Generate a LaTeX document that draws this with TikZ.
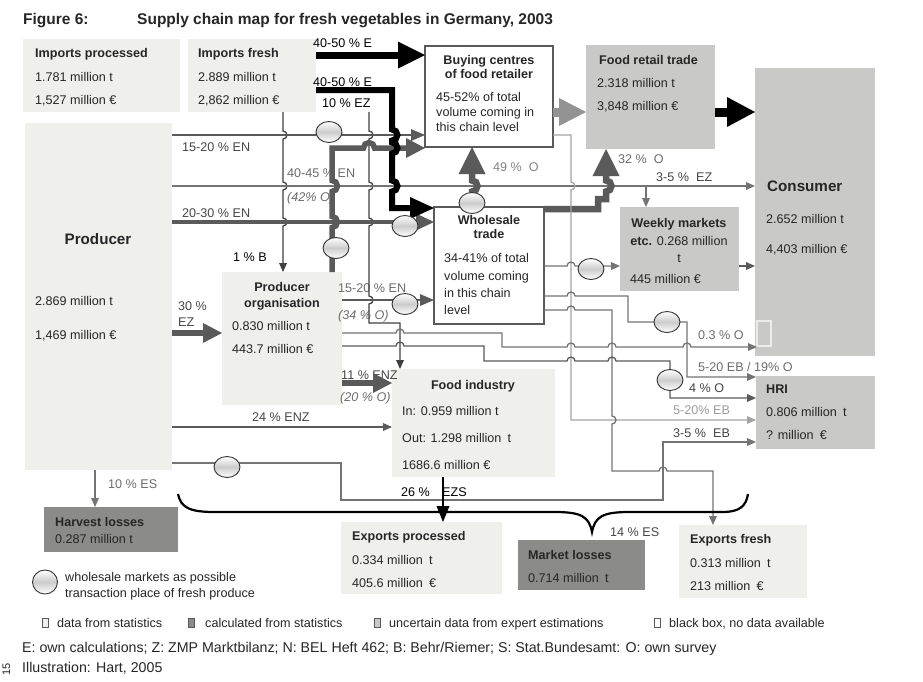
\documentclass[tikz,border=0pt]{standalone}
\usepackage{fontspec}
\setmainfont{Liberation Sans}
\usetikzlibrary{arrows.meta,shapes.geometric}

\definecolor{boxlight}{HTML}{EFEFEC}
\definecolor{boxmid}{HTML}{C9C9C7}
\definecolor{boxdark}{HTML}{8B8C89}
\definecolor{linedark}{HTML}{5A5A5A}
\definecolor{linemid}{HTML}{747474}
\definecolor{linelight}{HTML}{A3A3A3}
\definecolor{labgrey}{HTML}{464646}
\definecolor{labsoft}{HTML}{6C6C6C}
\definecolor{lablight}{HTML}{9C9C9C}

% little hops where two lines cross
\newcommand{\hopr}{arc[start angle=180,end angle=0,radius=4pt]}
\newcommand{\hopd}{arc[start angle=90,end angle=-90,radius=4pt]}
\newcommand{\bighopd}{arc[start angle=90,end angle=-90,radius=5.5pt]}
\newcommand{\bighopu}{arc[start angle=-90,end angle=90,radius=5.5pt]}
\newcommand{\bighopr}{arc[start angle=180,end angle=0,radius=5.5pt]}
\newcommand{\boxtext}[3]{\node[txt] (#1) at (#2) {#3};}
\newcommand{\boxtextc}[3]{\node[txt, anchor=base] (#1) at (#2) {#3};}

\begin{document}
\begin{tikzpicture}[x=1pt, y=-1pt,
  font=\fontsize{12.6}{15}\selectfont,
  box/.style={anchor=north west, inner sep=0, outer sep=0},
  lightbox/.style={box, fill=boxlight},
  midbox/.style={box, fill=boxmid},
  darkbox/.style={box, fill=boxdark},
  openbox/.style={box, fill=white, draw=linedark, line width=1.5pt},
  txt/.style={anchor=base west, inner sep=0, text=black!85},
  lab/.style={txt, text=labgrey},
  big/.style={font=\fontsize{15.2}{18}\selectfont\bfseries},
  foot/.style={txt, font=\fontsize{14.2}{17}\selectfont},
  market/.style={ellipse, draw=black!80, line width=0.9pt, inner sep=0,
    minimum width=26pt, minimum height=21pt,
    top color=white, bottom color=white, middle color=gray!40},
  legsq/.style={draw=black!65, line width=0.7pt, inner sep=0, minimum width=6pt, minimum height=9pt},
  arr/.style={draw=linemid, line width=1.3pt, -{Triangle[length=9pt,width=8pt,line width=0pt]}},
  arrdark/.style={arr, draw=black!75},
  thickarr/.style={draw=linedark, line width=2.7pt, -{Triangle[length=14pt,width=12pt,line width=0pt]}},
  widearr/.style={draw=linedark, line width=3.8pt, -{Triangle[length=18pt,width=17pt,line width=0pt]}},
  fatgrey/.style={draw=linedark, line width=5.5pt, -{Triangle[length=19pt,width=20pt,line width=0pt]}},
  fatmid/.style={draw=linedark, line width=6.5pt, -{Triangle[length=27pt,width=27pt,line width=0pt]}},
  fatlight/.style={draw=linelight!90!black, line width=9pt, -{Triangle[length=27pt,width=28pt,line width=0pt]}},
  fatblack/.style={draw=black, line width=9pt, -{Triangle[length=28pt,width=30pt,line width=0pt]}},
  bigblack/.style={draw=black, line width=7pt, -{Triangle[length=27pt,width=27pt,line width=0pt]}},
  blackarr/.style={draw=black, line width=6pt, -{Triangle[length=24pt,width=22pt,line width=0pt]}},
  exparr/.style={draw=black, line width=2.5pt, -{Triangle[length=16pt,width=13pt,line width=0pt]}},
  bracestroke/.style={draw=black, line width=2.2pt}
]
\fill[white] (0,0) rectangle (923,681);
\useasboundingbox (0,0) rectangle (923,681);

% boxes
\node[lightbox, minimum width=157pt, minimum height=73pt] (impproc) at (23,39) {};
\node[lightbox, minimum width=128pt, minimum height=73pt] (impfresh) at (188,39) {};
\node[lightbox, minimum width=147pt, minimum height=347pt] (prod) at (25,123) {};
\node[openbox, minimum width=128pt, minimum height=101pt] (buy) at (425,46) {};
\node[midbox, minimum width=129pt, minimum height=104pt] (retail) at (586,45) {};
\node[midbox, minimum width=120pt, minimum height=288pt] (cons) at (755,68) {};
\node[box, draw=white!85!gray, line width=1.2pt, minimum width=14pt, minimum height=25pt] (blackbox) at (757,321) {};
\node[midbox, minimum width=119pt, minimum height=84pt] (weekly) at (620,207) {};
\node[openbox, minimum width=110pt, minimum height=117pt] (whole) at (434,207) {};
\node[lightbox, minimum width=120pt, minimum height=133pt] (porg) at (222,272) {};
\node[lightbox, minimum width=163pt, minimum height=108pt] (food) at (392,369) {};
\node[midbox, minimum width=119pt, minimum height=73pt] (hri) at (756,376) {};
\node[darkbox, minimum width=134pt, minimum height=45pt] (harvest) at (44,507) {};
\node[lightbox, minimum width=161pt, minimum height=72pt] (expproc) at (341,522) {};
\node[darkbox, minimum width=127pt, minimum height=50pt] (mloss) at (518,540) {};
\node[lightbox, minimum width=128pt, minimum height=73pt] (expfresh) at (679,525) {};

% title
\node[txt, font=\fontsize{15.5}{18}\selectfont\bfseries] (fig) at (23,24) {Figure 6:};
\node[txt, font=\fontsize{15.5}{18}\selectfont\bfseries] (title) at (137,24) {Supply chain map for fresh vegetables in Germany, 2003};

% box texts
\boxtext{ip1}{35,57}{\textbf{Imports processed}}
\boxtext{ip2}{35,81}{1.781 million t}
\boxtext{ip3}{35,104}{1,527 million €}
\boxtext{if1}{198,57}{\textbf{Imports fresh}}
\boxtext{if2}{198,81}{2.889 million t}
\boxtext{if3}{198,104}{2,862 million €}
\node[txt, big, anchor=base] (pr1) at (98,244) {Producer};
\boxtext{pr2}{35,305}{2.869 million t}
\boxtext{pr3}{35,339}{1,469 million €}
\boxtextc{bu1}{489,64}{\textbf{Buying centres}}
\boxtextc{bu2}{489,78}{\textbf{of food retailer}}
\boxtext{bu3}{436,101}{45-52\% of total}
\boxtext{bu4}{436,116}{volume coming in}
\boxtext{bu5}{436,131}{this chain level}
\boxtext{re1}{599,64}{\textbf{Food retail trade}}
\boxtext{re2}{597,87}{2.318 million t}
\boxtext{re3}{597,110}{3,848 million €}
\node[txt, big] (co1) at (767,191) {Consumer};
\boxtext{co2}{766,223}{2.652 million t}
\boxtext{co3}{766,253}{4,403 million €}
\boxtextc{wk1}{679,227.5}{\textbf{Weekly markets}}
\boxtextc{wk2}{679,245}{\textbf{etc.} 0.268 million}
\boxtextc{wk3}{679,262}{t}
\boxtext{wk4}{630,283}{445 million €}
\boxtextc{wh1}{489,224.5}{\textbf{Wholesale}}
\boxtextc{wh2}{489,238}{\textbf{trade}}
\boxtext{wh3}{444,262}{34-41\% of total}
\boxtext{wh4}{444,280}{volume coming}
\boxtext{wh5}{444,297}{in this chain}
\boxtext{wh6}{444,314}{level}
\boxtextc{po1}{282,291}{\textbf{Producer}}
\boxtextc{po2}{282,307}{\textbf{organisation}}
\boxtext{po3}{232,330}{0.830 million t}
\boxtext{po4}{232,353}{443.7 million €}
\boxtextc{fo1}{473,389}{\textbf{Food industry}}
\boxtext{fo2}{402,415}{In: 0.959 million t}
\boxtext{fo3}{402,442}{Out: 1.298 million\enspace t}
\boxtext{fo4}{402,469}{1686.6 million €}
\boxtext{hr1}{766,393.5}{\textbf{HRI}}
\boxtext{hr2}{766,416.5}{0.806 million\enspace t}
\boxtext{hr3}{766,439.5}{? million\enspace €}
\boxtext{ha1}{55,526.5}{\textbf{Harvest losses}}
\boxtext{ha2}{55,543}{0.287 million t}
\boxtext{ep1}{352,540.5}{\textbf{Exports processed}}
\boxtext{ep2}{352,564}{0.334 million\enspace t}
\boxtext{ep3}{352,587}{405.6 million\enspace €}
\boxtext{ml1}{528,559}{\textbf{Market losses}}
\boxtext{ml2}{528,582.5}{0.714 million\enspace t}
\boxtext{ef1}{690,543.5}{\textbf{Exports fresh}}
\boxtext{ef2}{690,567}{0.313 million\enspace t}
\boxtext{ef3}{690,590.5}{213 million\enspace €}

% flow labels
\node[lab, text=black] (l1) at (313,47.5) {40-50 \% E};
\node[lab, text=black] (l2) at (313,86.5) {40-50 \% E};
\node[lab, text=black] (l3) at (322,107.5) {10 \% EZ};
\node[lab] (l4) at (182,151.5) {15-20 \% EN};
\node[lab, text=labsoft] (l5) at (287,177.5) {40-45 \% EN};
\node[lab, text=labsoft] (l6) at (287,201) {\textit{(42\% O)}};
\node[lab] (l7) at (182,217.5) {20-30 \% EN};
\node[lab, text=black] (l8) at (233,261.5) {1 \% B};
\node[lab] (l9) at (178,310.5) {30 \%};
\node[lab] (l10) at (178,326.5) {EZ};
\node[lab, text=labsoft] (l11) at (338,292.5) {15-20 \% EN};
\node[lab, text=labsoft] (l12) at (338,319.5) {\textit{(34 \% O)}};
\node[lab] (l13) at (341,379.5) {11 \% ENZ};
\node[lab, text=labsoft] (l14) at (340,401.5) {\textit{(20 \% O)}};
\node[lab] (l15) at (252,421.5) {24 \% ENZ};
\node[lab, text=labsoft] (l16) at (108,488.5) {10 \% ES};
\node[lab, text=black] (l17) at (401,496.5) {26 \%};
\node[lab, text=black] (l18) at (442,496.5) {EZS};
\node[lab, text=labsoft!85!white] (l19) at (493,171.5) {49 \%~~O};
\node[lab, text=labsoft] (l20) at (618,163.5) {32 \%~~O};
\node[lab] (l21) at (656,181.5) {3-5 \%~~EZ};
\node[lab, text=labsoft] (l22) at (698,339.5) {0.3 \% O};
\node[lab, text=labsoft] (l23) at (698,371.5) {5-20 EB / 19\% O};
\node[lab] (l24) at (689,392.5) {4 \% O};
\node[lab, text=lablight] (l25) at (673,414.5) {5-20\% EB};
\node[lab] (l26) at (673,437.5) {3-5 \%~~EB};
\node[lab] (l27) at (610,536) {14 \% ES};

% flows
\draw[bigblack] (impfresh.east |- 0,55) -- (buy.west |- 0,55);
\draw[arrdark] (impfresh.south -| 283,0) -- (283,131) \hopd -- (283,182) \hopd
  -- (283,218) \hopd -- (porg.north -| 283,0);
\coordinate (ezstart) at (369,112);
\draw[arrdark] (ezstart) -- (369,131) \hopd -- (369,182) \hopd -- (369,218) \hopd
  -- (369,296) \hopd -- (369,323) -- (400,323) -- (food.north -| 400,0);
\draw[thickarr] (prod.east |- 0,135) -- (buy.west |- 0,135);
\draw[arr] (prod.east |- 0,186) -- (cons.west |- 0,186);
\coordinate (wkbranch) at (646,186);
\draw[arr] (wkbranch) -- (weekly.north -| 646,0);
\draw[widearr] (prod.east |- 0,222) -- (whole.west |- 0,222);
\draw[fatgrey] (porg.north -| 332,0) -- (332,227.5) \bighopu -- (332,191.5) \bighopu
  -- (332,148) -- (363.5,148) \bighopr -- (buy.west |- 0,148);
\draw[blackarr] (impfresh.east |- 0,90) -- (392,90) -- (392,129.5) \bighopd
  -- (392,142.5) \bighopd -- (392,180.5) \bighopd -- (392,208) -- (whole.west |- 0,208);
\draw[thickarr] (porg.east |- 0,300) -- (whole.west |- 0,300);
\draw[fatgrey] (prod.east |- 0,333) -- (porg.west |- 0,333);
\draw[fatgrey] (porg.east |- 0,383) -- (food.west |- 0,383);
\draw[arr, draw=linedark] (prod.east |- 0,427) -- (food.west |- 0,427);
\draw[arr] (prod.east |- 0,463) -- (341,463) -- (341,500) -- (663,500) -- (663,442)
  -- (hri.west |- 0,442);
\draw[arr] (prod.south -| 95,0) -- (harvest.north -| 95,0);
\draw[exparr] (food.south -| 443,0) -- (expproc.north -| 443,0);
\draw[fatlight] (buy.east |- 0,112) -- (retail.west |- 0,112);
\draw[fatblack] (retail.east |- 0,112) -- (cons.west |- 0,112);
\coordinate (wmtop) at (472,196);
\draw[fatmid] (wmtop) -- (472,191.5) \bighopu -- (buy.south -| 472,0);
\draw[fatmid] (whole.east |- 0,209) -- (598,209) -- (598,199) -- (606,199)
  -- (606,191.5) \bighopu -- (retail.south -| 606,0);
\draw[arr, draw=linelight] (buy.east |- 0,135) -- (571,135) -- (571,182) \hopd
  -- (571,420) -- (hri.west |- 0,420);
\draw[arr] (whole.east |- 0,266) -- (567,266) \hopr -- (weekly.west |- 0,266);
\draw[arr, draw=linedark] (weekly.east |- 0,266) -- (cons.west |- 0,266);
\draw[arr] (whole.east |- 0,296) -- (567,296) \hopr -- (628,296) -- (628,322)
  -- (687,322) -- (687,377) -- (hri.west |- 0,377);
\draw[arr] (whole.east |- 0,310) -- (567,310) \hopr -- (612,310) -- (612,416) \hopd
  -- (612,471) -- (659,471) \hopr -- (713,471) -- (expfresh.north -| 713,0);
\draw[arr] (porg.east |- 0,333) -- (396,333) \hopr -- (502,333) -- (502,347)
  -- (567,347) \hopr -- (608,347) \hopr -- (683,347) \hopr -- (blackbox.west |- 0,347);
\draw[arr, draw=linedark] (porg.east |- 0,346) -- (396,346) \hopr -- (484,346) -- (484,361)
  -- (567,361) \hopr -- (608,361) \hopr -- (670,361) -- (670,398) -- (hri.west |- 0,398);

% wholesale markets
\node[market] (m1) at (329,132) {};
\node[market] (m2) at (405,226) {};
\node[market] (m3) at (336,248) {};
\node[market] (m4) at (405,304) {};
\node[market] (mwh) at (472,203) {};
\node[market] (m5) at (591,269) {};
\node[market] (m6) at (667,322) {};
\node[market] (m7) at (670,380) {};
\node[market] (m8) at (227,467) {};

% brace over the exports and losses
\draw[bracestroke] (178,494) .. controls (181,508) and (190,512) .. (215,512) -- (555,512)
  .. controls (582,512) and (589,517) .. (592,532)
  .. controls (595,517) and (602,512) .. (629,512) -- (722,512)
  .. controls (740,512) and (746,506) .. (748,494);

% legend
\node[market, minimum width=25pt, minimum height=24pt] (mleg) at (45,582) {};
\boxtext{leg1}{65,581.5}{wholesale markets as possible}
\boxtext{leg2}{65,597.5}{transaction place of fresh produce}
\node[legsq, fill=boxlight] (sq1) at (45,623) {};
\boxtext{sqt1}{57,627.5}{data from statistics}
\node[legsq, fill=boxdark] (sq2) at (191,623) {};
\boxtext{sqt2}{205,627.5}{calculated from statistics}
\node[legsq, fill=boxmid] (sq3) at (377,623) {};
\boxtext{sqt3}{389,627.5}{uncertain data from expert estimations}
\node[legsq, fill=white] (sq4) at (657,623) {};
\boxtext{sqt4}{669,627.5}{black box, no data available}
\node[foot] (src) at (22,652.5) {E: own calculations; Z: ZMP Marktbilanz; N: BEL Heft 462; B: Behr/Riemer; S: Stat.Bundesamt: O: own survey};
\node[foot] (illu) at (22,672) {Illustration: Hart, 2005};
\node[txt, rotate=90, font=\fontsize{11}{13}\selectfont] (pgnum) at (10,676) {15};
\end{tikzpicture}
\end{document}
